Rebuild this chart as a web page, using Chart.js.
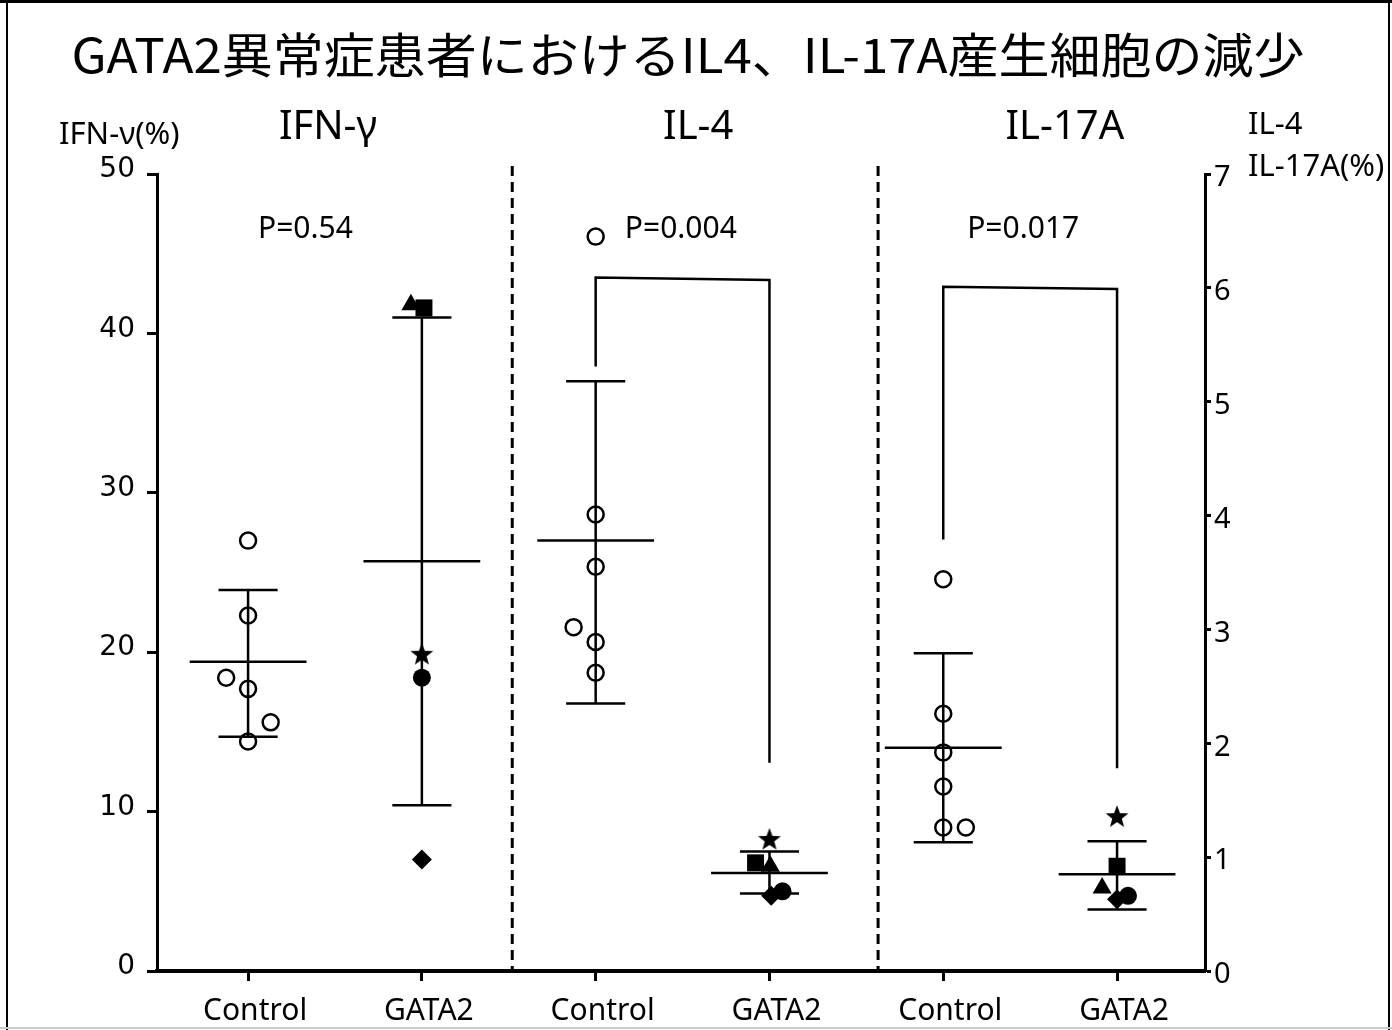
<!DOCTYPE html>
<html>
<head>
<meta charset="utf-8">
<script src="https://cdn.jsdelivr.net/npm/chart.js@4.4.0/dist/chart.umd.min.js"></script>
<style>
body { margin: 0; background: #fff; }
#wrap { width: 1392px; height: 1030px; position: relative; }
</style>
</head>
<body>
<div id="wrap"><canvas id="myChart" width="1392" height="1030"></canvas></div>
<script>
// categories / groups
var groupLabels = ['Control', 'GATA2', 'Control', 'GATA2', 'Control', 'GATA2'];
var groupPos = [1, 2, 3, 4, 5, 6];
var groupAxis = ['y', 'y', 'y2', 'y2', 'y2', 'y2'];
var panelTitles = ['IFN-γ', 'IL-4', 'IL-17A'];
var panelTitleX = [1.46, 3.59, 5.70];
var pValues = ['P=0.54', 'P=0.004', 'P=0.017'];
var pValueX = [1.33, 3.49, 5.46];
var dividers = [2.52, 4.625];

// control subjects (open circles), dx = small horizontal jitter
var ifnControl = [27.0, 22.3, 18.4, 17.7, 15.6, 14.4];
var ifnControlDx = [0, 0, -0.126, 0, 0.13, 0];
var il4Control = [6.45, 4.01, 3.55, 3.02, 2.89, 2.62];
var il4ControlDx = [0, 0, 0, -0.127, 0, 0];
var il17Control = [3.44, 2.26, 1.92, 1.62, 1.26, 1.26];
var il17ControlDx = [0, 0, 0, 0, 0, 0.13];

// GATA2 patients (one shape per patient)
var gataShapes = ['triangle', 'rect', 'star', 'circle', 'rectRot'];
var gataIfn = [41.8, 41.6, 19.9, 18.4, 7.0];
var gataIfnDx = [-0.063, 0.012, 0, 0, 0];
var gataIl4 = [0.92, 0.95, 1.16, 0.70, 0.66];
var gataIl4Dx = [0.005, -0.08, 0, 0.075, 0.01];
var gataIl17 = [0.73, 0.92, 1.36, 0.66, 0.63];
var gataIl17Dx = [-0.086, 0, 0, 0.063, 0];

// mean and SD per group
var meanVals = [19.4, 25.7, 3.78, 0.86, 1.96, 0.85];
var sdHigh = [23.9, 41.0, 5.18, 1.05, 2.79, 1.14];
var sdLow = [14.7, 10.4, 2.35, 0.68, 1.13, 0.54];

// significance brackets (right axis values)
var bracketIl4 = [5.31, 6.09, 6.07, 1.83];
var bracketIl17 = [3.79, 6.01, 5.99, 1.78];

function makeStar(size) {
    var c = document.createElement('canvas');
    c.width = size; c.height = size;
    var g = c.getContext('2d');
    var cx = size / 2, cy = size / 2 + 1, R = size / 2, r = R * 0.42;
    g.beginPath();
    for (var i = 0; i < 10; i++) {
        var a = -Math.PI / 2 + i * Math.PI / 5;
        var rr = i % 2 ? r : R;
        g.lineTo(cx + rr * Math.cos(a), cy + rr * Math.sin(a));
    }
    g.closePath();
    g.fillStyle = '#000';
    g.fill();
    return c;
}
var starImg = makeStar(24);

function pts(pos, vals, dx) {
    return vals.map(function (v, i) { return { x: pos + dx[i], y: v }; });
}

var shapeStyle = gataShapes.map(function (s) { return s === 'star' ? starImg : s; });
var shapeRadius = [11, 12, 12, 9, 10];

function controlSet(pos, vals, dx, axis) {
    return {
        data: pts(pos, vals, dx),
        yAxisID: axis,
        pointStyle: 'circle',
        pointRadius: 8,
        borderWidth: 2.5,
        borderColor: '#000',
        backgroundColor: 'rgba(0,0,0,0)',
        showLine: false
    };
}
function gataSet(pos, vals, dx, axis) {
    return {
        data: pts(pos, vals, dx),
        yAxisID: axis,
        pointStyle: shapeStyle,
        pointRadius: shapeRadius,
        borderWidth: 0,
        borderColor: '#000',
        backgroundColor: '#000',
        showLine: false
    };
}
function bracketSet(a, b, vals) {
    return {
        data: [{ x: a, y: vals[0] }, { x: a, y: vals[1] }, { x: b, y: vals[2] }, { x: b, y: vals[3] }],
        yAxisID: 'y2',
        showLine: true,
        pointRadius: 0,
        borderWidth: 2.5,
        borderColor: '#000',
        fill: false,
        tension: 0
    };
}

var errorBars = {
    id: 'errorBars',
    beforeDatasetsDraw: function (chart) {
        var ctx = chart.ctx, xs = chart.scales.x, area = chart.chartArea;
        ctx.save();
        ctx.strokeStyle = '#000';
        // dashed dividers
        ctx.lineWidth = 3;
        ctx.setLineDash([10, 6]);
        dividers.forEach(function (d) {
            var x = xs.getPixelForValue(d);
            ctx.beginPath();
            ctx.moveTo(x, area.top - 8);
            ctx.lineTo(x, area.bottom);
            ctx.stroke();
        });
        ctx.setLineDash([]);
        ctx.lineWidth = 2.5;
        groupPos.forEach(function (p, i) {
            var ys = chart.scales[groupAxis[i]];
            var x = xs.getPixelForValue(p);
            var capW = xs.getPixelForValue(p + 0.17) - x;
            var meanW = xs.getPixelForValue(p + 0.336) - x;
            var hi = ys.getPixelForValue(sdHigh[i]);
            var lo = ys.getPixelForValue(sdLow[i]);
            var m = ys.getPixelForValue(meanVals[i]);
            ctx.beginPath();
            ctx.moveTo(x, hi); ctx.lineTo(x, lo);
            ctx.moveTo(x - capW, hi); ctx.lineTo(x + capW, hi);
            ctx.moveTo(x - capW, lo); ctx.lineTo(x + capW, lo);
            ctx.moveTo(x - meanW, m); ctx.lineTo(x + meanW, m);
            ctx.stroke();
        });
        ctx.restore();
    },
    afterDraw: function (chart) {
        var ctx = chart.ctx, xs = chart.scales.x;
        ctx.save();
        ctx.fillStyle = '#000';
        ctx.textBaseline = 'middle';
        // main title, stretched to the reference width
        ctx.textAlign = 'center';
        ctx.font = '48px "Noto Sans CJK JP"';
        var title = 'GATA2異常症患者におけるIL4、IL-17A産生細胞の減少';
        var tw = ctx.measureText(title).width;
        ctx.save();
        ctx.translate(688, 55);
        ctx.scale(1233 / tw, 1);
        ctx.fillText(title, 0, 0);
        ctx.restore();
        // panel titles
        ctx.font = '40px "Noto Sans"';
        panelTitles.forEach(function (t, i) {
            ctx.fillText(t, xs.getPixelForValue(panelTitleX[i]), 128);
        });
        ctx.font = '30px "Noto Sans"';
        pValues.forEach(function (t, i) {
            ctx.fillText(t, xs.getPixelForValue(pValueX[i]), 229);
        });
        // axis titles
        ctx.textAlign = 'left';
        ctx.font = '31px "Noto Sans"';
        ctx.fillText('IFN-ν(%)', 59, 135);
        ctx.fillText('IL-4', 1248, 125);
        ctx.fillText('IL-17A(%)', 1248, 167);
        // frame
        ctx.strokeStyle = '#000';
        ctx.lineWidth = 3;
        ctx.beginPath();
        ctx.moveTo(0, 1.5); ctx.lineTo(1392, 1.5);
        ctx.stroke();
        ctx.lineWidth = 2;
        ctx.beginPath();
        ctx.moveTo(7, 0); ctx.lineTo(7, 1030);
        ctx.moveTo(1389, 0); ctx.lineTo(1389, 1030);
        ctx.stroke();
        ctx.strokeStyle = '#ccc';
        ctx.beginPath();
        ctx.moveTo(0, 1028); ctx.lineTo(1392, 1028);
        ctx.stroke();
        ctx.restore();
    }
};

var ctx = document.getElementById('myChart').getContext('2d');
var myChart = new Chart(ctx, {
    type: 'scatter',
    data: {
        datasets: [
            controlSet(1, ifnControl, ifnControlDx, 'y'),
            gataSet(2, gataIfn, gataIfnDx, 'y'),
            controlSet(3, il4Control, il4ControlDx, 'y2'),
            gataSet(4, gataIl4, gataIl4Dx, 'y2'),
            controlSet(5, il17Control, il17ControlDx, 'y2'),
            gataSet(6, gataIl17, gataIl17Dx, 'y2'),
            bracketSet(3, 4, bracketIl4),
            bracketSet(5, 6, bracketIl17)
        ]
    },
    options: {
        responsive: false,
        animation: false,
        layout: { padding: { top: 174, left: 0, right: 0, bottom: 0 } },
        plugins: {
            legend: { display: false },
            tooltip: { enabled: false }
        },
        scales: {
            x: {
                type: 'linear',
                min: 0.476,
                max: 6.506,
                afterBuildTicks: function (scale) {
                    scale.ticks = groupPos.map(function (p) { return { value: p }; });
                },
                afterFit: function (scale) { scale.height = 59; },
                ticks: {
                    color: '#000',
                    font: { family: 'Noto Sans', size: 30 },
                    padding: 12,
                    labelOffset: 7,
                    maxRotation: 0,
                    callback: function (v) { return groupLabels[groupPos.indexOf(v)]; }
                },
                grid: { drawOnChartArea: false, drawTicks: true, tickLength: 10, tickWidth: 3, color: '#000' },
                border: { display: true, width: 4, color: '#000' }
            },
            y: {
                type: 'linear',
                position: 'left',
                min: 0,
                max: 50,
                afterFit: function (scale) { scale.width = 157; },
                ticks: {
                    stepSize: 10,
                    color: '#000',
                    font: { family: 'DejaVu Sans', size: 28 },
                    padding: 12,
                    labelOffset: -4
                },
                grid: { drawOnChartArea: false, drawTicks: true, tickLength: 10, tickWidth: 3, color: '#000' },
                border: { display: true, width: 3, color: '#000' }
            },
            y2: {
                type: 'linear',
                position: 'right',
                min: 0,
                max: 7,
                afterFit: function (scale) { scale.width = 187; },
                ticks: {
                    stepSize: 1,
                    color: '#000',
                    font: { family: 'Noto Sans', size: 29 },
                    padding: 3,
                    labelOffset: 4
                },
                grid: { drawOnChartArea: false, drawTicks: true, tickLength: 6, tickWidth: 3, color: '#000' },
                border: { display: true, width: 3, color: '#000' }
            }
        }
    },
    plugins: [errorBars]
});
</script>
</body>
</html>
